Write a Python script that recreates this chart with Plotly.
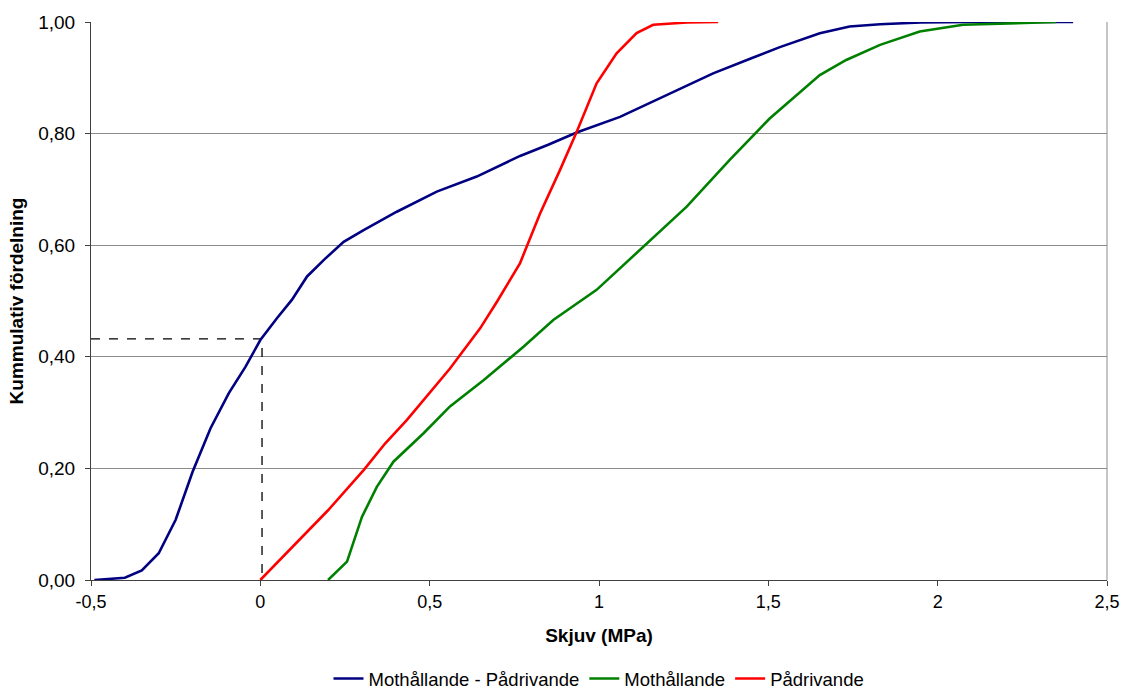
import plotly.graph_objects as go

# Data
blue_x = [-0.49, -0.40, -0.35, -0.30, -0.25, -0.20, -0.147, -0.093, -0.044, 0.0, 0.049, 0.093, 0.138,
          0.19, 0.246, 0.305, 0.403, 0.521, 0.639, 0.767, 0.85, 0.934, 1.062, 1.19, 1.337, 1.45,
          1.534, 1.652, 1.74, 1.83, 1.95, 2.1, 2.25, 2.40]
blue_y = [0.0, 0.004, 0.017, 0.048, 0.108, 0.194, 0.272, 0.335, 0.382, 0.43, 0.469, 0.502, 0.544,
          0.575, 0.606, 0.627, 0.66, 0.696, 0.723, 0.760, 0.78, 0.802, 0.830, 0.866, 0.908, 0.935,
          0.955, 0.98, 0.992, 0.996, 0.999, 1.0, 1.0, 1.0]

green_x = [0.2, 0.256, 0.30, 0.344, 0.393, 0.482, 0.56, 0.659, 0.777, 0.865, 0.993, 1.131, 1.259,
           1.386, 1.504, 1.652, 1.73, 1.83, 1.947, 2.075, 2.22, 2.35]
green_y = [0.0, 0.033, 0.113, 0.167, 0.212, 0.263, 0.311, 0.358, 0.418, 0.466, 0.52, 0.597, 0.669,
           0.753, 0.827, 0.905, 0.932, 0.959, 0.983, 0.995, 0.998, 1.0]

red_x = [0.0, 0.1, 0.20, 0.305, 0.369, 0.433, 0.5, 0.56, 0.649, 0.70, 0.767, 0.826, 0.885, 0.934,
         0.993, 1.052, 1.111, 1.16, 1.259, 1.352]
red_y = [0.0, 0.062, 0.125, 0.197, 0.245, 0.287, 0.335, 0.379, 0.451, 0.50, 0.568, 0.657, 0.735,
         0.803, 0.890, 0.944, 0.980, 0.995, 0.999, 1.0]

marker_x = [-0.5, 0.005, 0.005]
marker_y = [0.432, 0.432, 0.0]

x_ticks = [-0.5, 0, 0.5, 1, 1.5, 2, 2.5]
x_tick_labels = ["-0,5", "0", "0,5", "1", "1,5", "2", "2,5"]
y_ticks = [0, 0.2, 0.4, 0.6, 0.8, 1.0]
y_tick_labels = ["0,00", "0,20", "0,40", "0,60", "0,80", "1,00"]

names = ["Mothållande - Pådrivande", "Mothållande", "Pådrivande"]
colors = ["#000080", "#008000", "#FF0000"]

FONT = "Liberation Sans, Arial, sans-serif"

fig = go.Figure()
fig.add_trace(go.Scatter(x=marker_x, y=marker_y, mode="lines",
                         line=dict(color="#000000", width=1.3, dash="dash"),
                         showlegend=False, hoverinfo="skip"))
for xs, ys, nm, col in [(blue_x, blue_y, names[0], colors[0]),
                        (green_x, green_y, names[1], colors[1]),
                        (red_x, red_y, names[2], colors[2])]:
    fig.add_trace(go.Scatter(x=xs, y=ys, mode="lines", name=nm,
                             line=dict(color=col, width=2.6)))

fig.update_layout(
    width=1123, height=691,
    margin=dict(l=91, r=16, t=22, b=111, autoexpand=False),
    paper_bgcolor="white", plot_bgcolor="white",
    font=dict(family=FONT, size=18, color="#000000"),
    showlegend=True,
    legend=dict(orientation="h", x=0.5, xanchor="center", y=-0.1774, yanchor="middle",
                font=dict(size=18.5), traceorder="normal", itemwidth=30,
                bgcolor="rgba(0,0,0,0)"),
    xaxis=dict(range=[-0.5, 2.5], tickvals=x_ticks, ticktext=x_tick_labels,
               showgrid=False, zeroline=False, showline=True, linecolor="#404040",
               linewidth=1, mirror=False, ticks="outside", ticklen=5, tickcolor="#404040",
               tickfont=dict(size=18),
               title=dict(text="<b>Skjuv (MPa)</b>", font=dict(size=19), standoff=18),
               automargin=False),
    yaxis=dict(range=[0, 1.0], tickvals=y_ticks, ticktext=y_tick_labels,
               showgrid=True, gridcolor="#8c8c8c", gridwidth=1, zeroline=False,
               showline=True, linecolor="#404040", linewidth=1, ticks="outside",
               ticklen=5, tickcolor="#404040", ticklabelstandoff=6,
               tickfont=dict(size=19),
               title=dict(text="<b>Kummulativ fördelning</b>", font=dict(size=19), standoff=9),
               automargin=False),
)
# right border of plot area
fig.add_shape(type="line", xref="paper", yref="paper", x0=1, x1=1, y0=0, y1=1,
              line=dict(color="#8c8c8c", width=1))

fig.write_html("out.html")
